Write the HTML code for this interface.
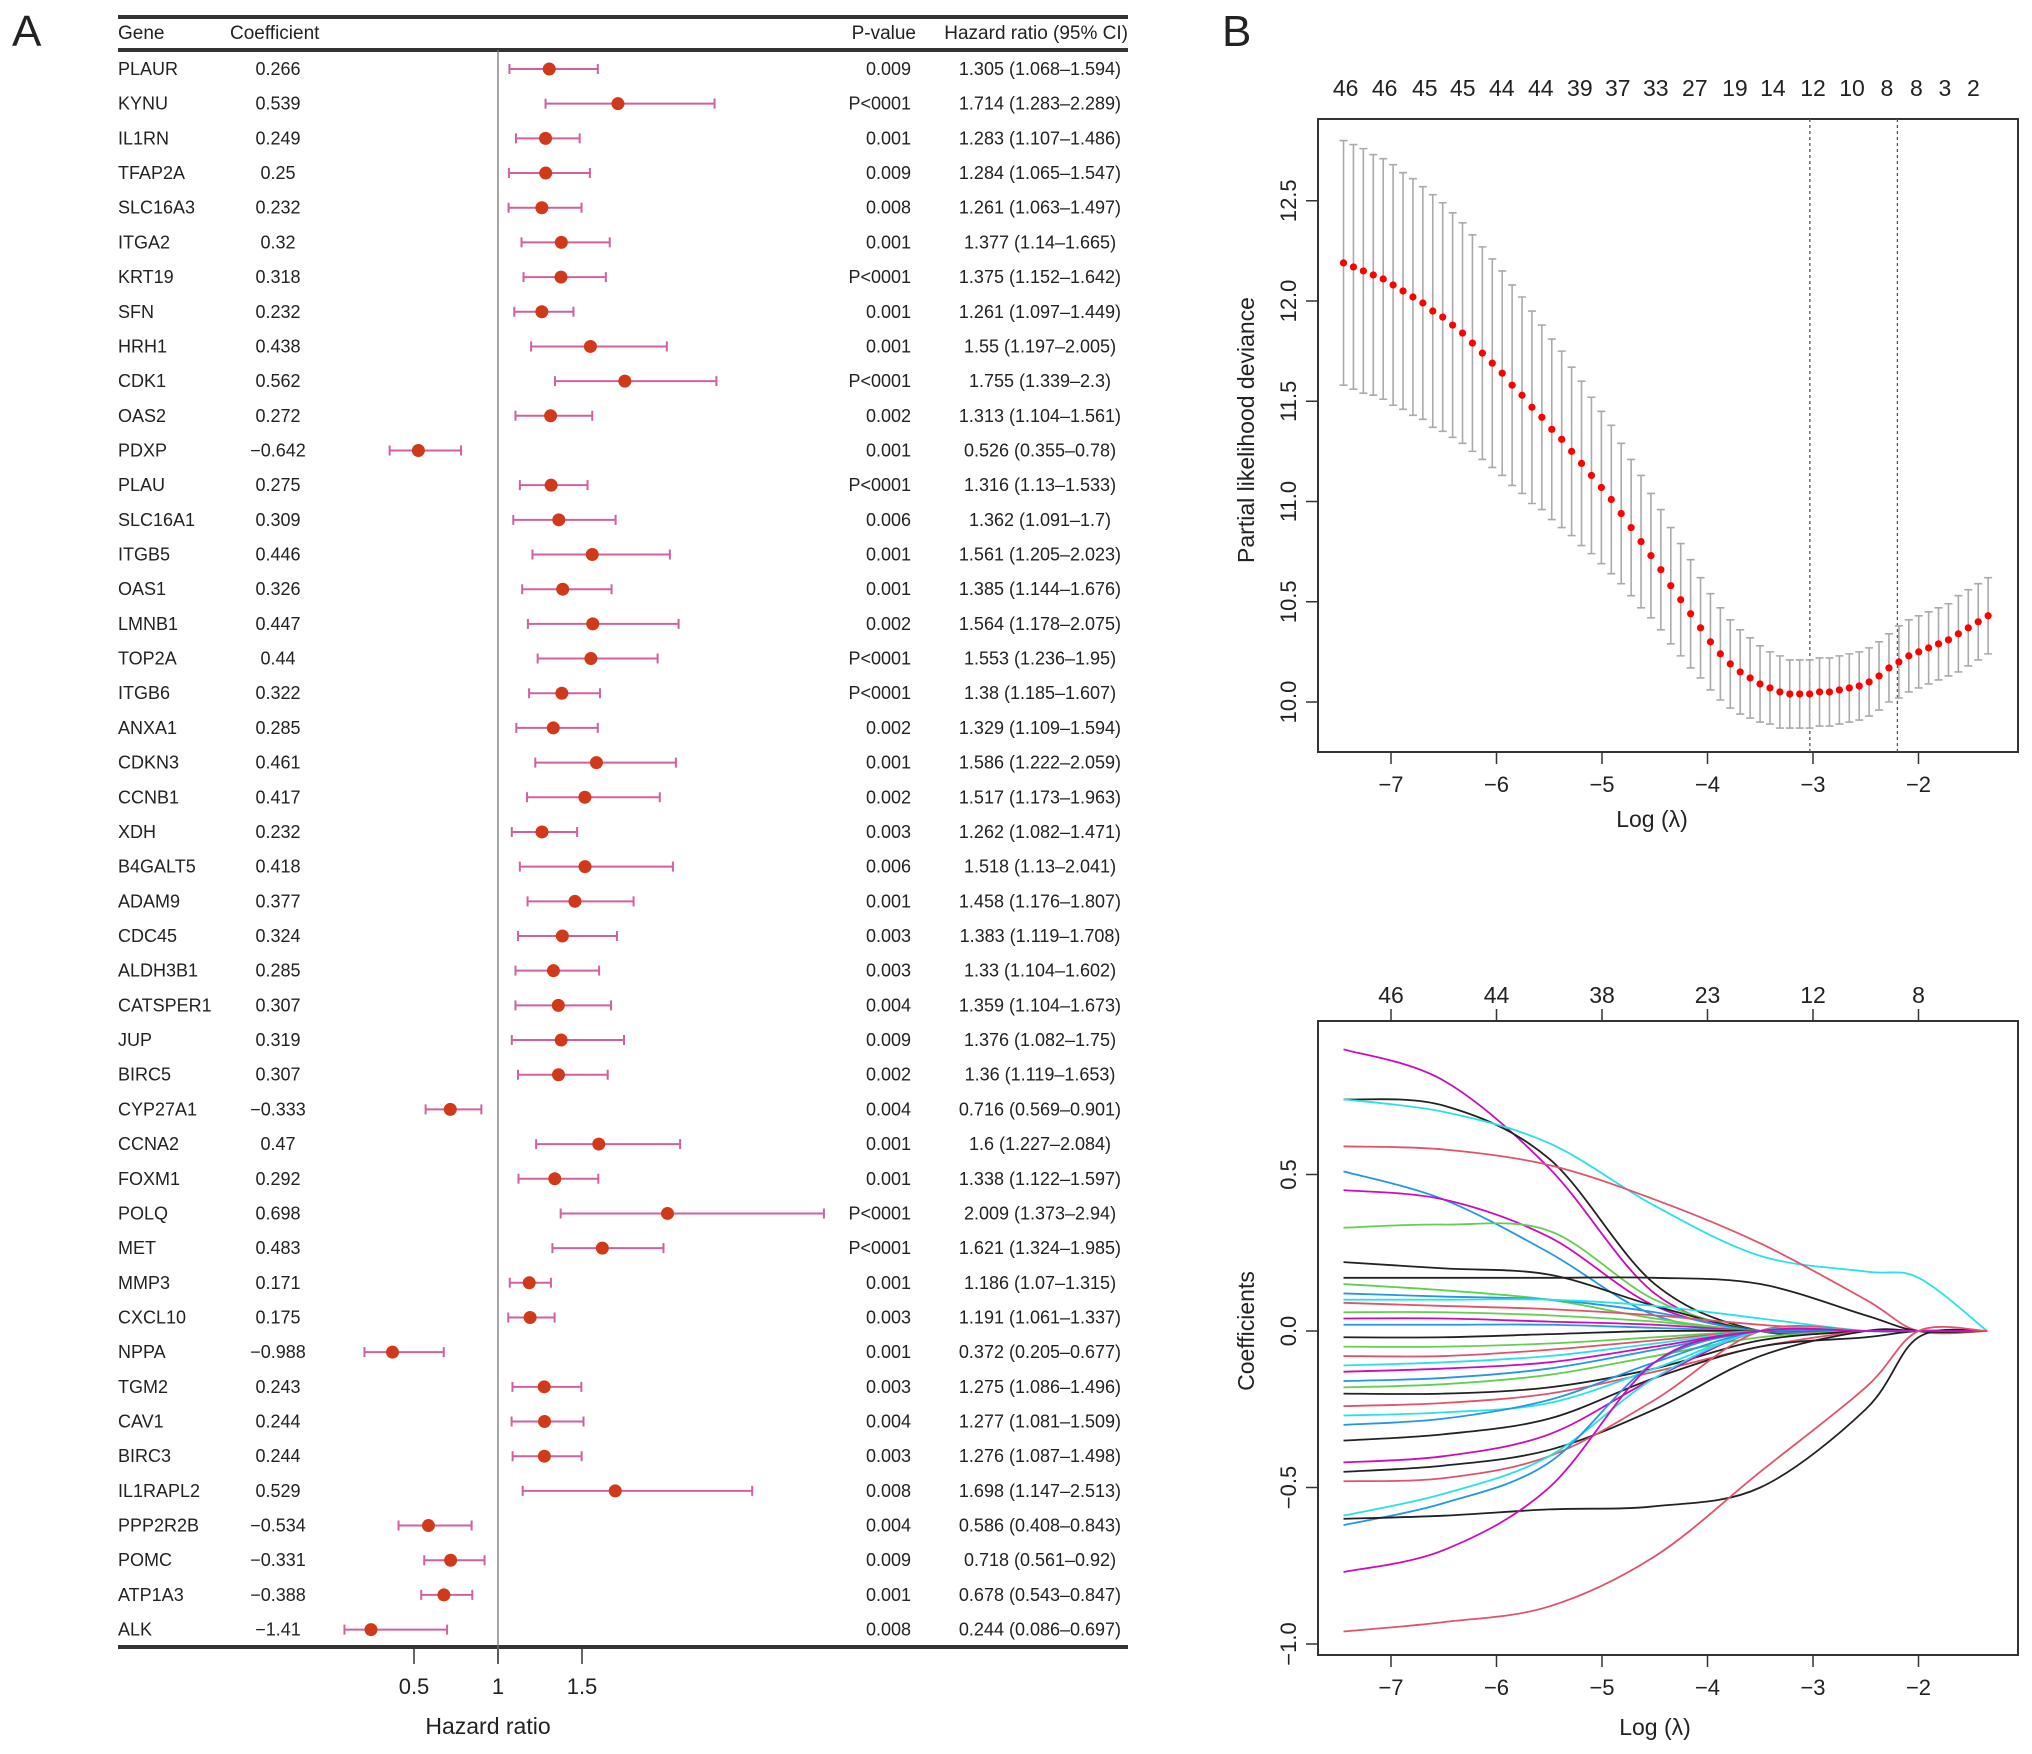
<!DOCTYPE html>
<html><head><meta charset="utf-8"><style>
body{margin:0;background:#fff}
svg{display:block}
text{font-family:"Liberation Sans",sans-serif;fill:#222}
</style></head><body>
<svg id="fig" width="2032" height="1754" viewBox="0 0 2032 1754" xmlns="http://www.w3.org/2000/svg">
<text x="12" y="46" font-size="44">A</text>
<text x="1222" y="46" font-size="44">B</text>
<g id="forest"></g>
<g id="cv"></g>
<g id="paths"></g>
</svg>
<script>
// ---------- Forest plot data ----------
const genes=["PLAUR","KYNU","IL1RN","TFAP2A","SLC16A3","ITGA2","KRT19","SFN","HRH1","CDK1","OAS2","PDXP","PLAU","SLC16A1","ITGB5","OAS1","LMNB1","TOP2A","ITGB6","ANXA1","CDKN3","CCNB1","XDH","B4GALT5","ADAM9","CDC45","ALDH3B1","CATSPER1","JUP","BIRC5","CYP27A1","CCNA2","FOXM1","POLQ","MET","MMP3","CXCL10","NPPA","TGM2","CAV1","BIRC3","IL1RAPL2","PPP2R2B","POMC","ATP1A3","ALK"];
const coefs=["0.266","0.539","0.249","0.25","0.232","0.32","0.318","0.232","0.438","0.562","0.272","−0.642","0.275","0.309","0.446","0.326","0.447","0.44","0.322","0.285","0.461","0.417","0.232","0.418","0.377","0.324","0.285","0.307","0.319","0.307","−0.333","0.47","0.292","0.698","0.483","0.171","0.175","−0.988","0.243","0.244","0.244","0.529","−0.534","−0.331","−0.388","−1.41"];
const pvals=["0.009","P<0001","0.001","0.009","0.008","0.001","P<0001","0.001","0.001","P<0001","0.002","0.001","P<0001","0.006","0.001","0.001","0.002","P<0001","P<0001","0.002","0.001","0.002","0.003","0.006","0.001","0.003","0.003","0.004","0.009","0.002","0.004","0.001","0.001","P<0001","P<0001","0.001","0.003","0.001","0.003","0.004","0.003","0.008","0.004","0.009","0.001","0.008"];
const hrs=["1.305","1.714","1.283","1.284","1.261","1.377","1.375","1.261","1.55","1.755","1.313","0.526","1.316","1.362","1.561","1.385","1.564","1.553","1.38","1.329","1.586","1.517","1.262","1.518","1.458","1.383","1.33","1.359","1.376","1.36","0.716","1.6","1.338","2.009","1.621","1.186","1.191","0.372","1.275","1.277","1.276","1.698","0.586","0.718","0.678","0.244"];
const los=["1.068","1.283","1.107","1.065","1.063","1.14","1.152","1.097","1.197","1.339","1.104","0.355","1.13","1.091","1.205","1.144","1.178","1.236","1.185","1.109","1.222","1.173","1.082","1.13","1.176","1.119","1.104","1.104","1.082","1.119","0.569","1.227","1.122","1.373","1.324","1.07","1.061","0.205","1.086","1.081","1.087","1.147","0.408","0.561","0.543","0.086"];
const his=["1.594","2.289","1.486","1.547","1.497","1.665","1.642","1.449","2.005","2.3","1.561","0.78","1.533","1.7","2.023","1.676","2.075","1.95","1.607","1.594","2.059","1.963","1.471","2.041","1.807","1.708","1.602","1.673","1.75","1.653","0.901","2.084","1.597","2.94","1.985","1.315","1.337","0.677","1.496","1.509","1.498","2.513","0.843","0.92","0.847","0.697"];
const hrTicks=[0.5,1,1.5];

// ---------- CV deviance data ----------
const cvStart=-7.45, cvStep=0.094;
const cvMean=[12.19,12.17,12.15,12.13,12.11,12.08,12.05,12.02,11.99,11.95,11.92,11.88,11.84,11.79,11.74,11.69,11.64,11.58,11.53,11.47,11.42,11.36,11.31,11.25,11.19,11.13,11.07,11.01,10.94,10.87,10.80,10.73,10.66,10.58,10.51,10.44,10.37,10.30,10.24,10.19,10.15,10.12,10.09,10.07,10.05,10.04,10.04,10.04,10.05,10.05,10.06,10.07,10.08,10.10,10.13,10.17,10.20,10.23,10.25,10.27,10.29,10.31,10.34,10.37,10.40,10.43];
const cvSE=[.61,.61,.61,.60,.60,.60,.59,.59,.58,.58,.57,.56,.55,.54,.53,.52,.51,.50,.49,.48,.46,.45,.44,.42,.41,.39,.38,.37,.35,.34,.33,.31,.30,.29,.28,.27,.25,.24,.23,.22,.21,.20,.19,.18,.18,.17,.17,.17,.17,.17,.17,.17,.17,.17,.17,.17,.18,.18,.18,.18,.18,.18,.19,.19,.19,.19];
const cvXTicks=[-7,-6,-5,-4,-3,-2];
const cvYTicks=[10.0,10.5,11.0,11.5,12.0,12.5];
const cvTopLabels=["46","46","45","45","44","44","39","37","33","27","19","14","12","10","8","8","3","2"];
const cvTopPos=[-7.43,-7.06,-6.68,-6.32,-5.95,-5.58,-5.21,-4.85,-4.49,-4.12,-3.74,-3.38,-3.00,-2.63,-2.30,-2.02,-1.75,-1.48];
const cvVlines=[-3.03,-2.2];

// ---------- Coefficient path data ----------
const pathKnots=[-7.45,-6.5,-5.5,-4.5,-3.5,-2.5,-2.0,-1.35];
const pathColors=["#CD0BBC","#222","#28E2E5","#DF536B","#2297E6","#CD0BBC","#61D04F","#222","#222","#61D04F","#2297E6","#28E2E5","#DF536B","#61D04F","#CD0BBC","#2297E6","#222","#61D04F","#DF536B","#28E2E5","#CD0BBC","#2297E6","#61D04F","#222","#DF536B","#28E2E5","#2297E6","#222","#CD0BBC","#222","#DF536B","#28E2E5","#2297E6","#222","#CD0BBC","#DF536B"];
const pathValues=[
[.90,.80,.52,.12,0,0,0,0],[.74,.72,.55,.15,0,0,0,0],[.74,.70,.60,.40,.24,.19,.17,0],[.59,.58,.53,.42,.28,.10,0,0],
[.51,.42,.25,.05,0,0,0,0],[.45,.42,.30,.08,0,0,0,0],[.33,.34,.32,.10,0,0,0,0],[.22,.20,.18,.08,0,0,0,0],
[.17,.17,.17,.17,.15,.05,0,0],[.15,.13,.10,.04,0,0,0,0],[.12,.11,.10,.06,0,0,0,0],[.10,.10,.10,.08,.04,0,0,0],
[.09,.08,.07,.05,.02,0,0,0],[.06,.06,.05,.03,0,0,0,0],[.04,.04,.03,.02,0,0,0,0],[.02,.02,.02,.01,0,0,0,0],
[-.02,-.02,-.01,0,0,0,0,0],[-.05,-.05,-.04,-.02,0,0,0,0],[-.08,-.08,-.06,-.03,0,0,0,0],[-.11,-.10,-.08,-.04,0,0,0,0],
[-.13,-.12,-.10,-.05,0,0,0,0],[-.16,-.15,-.12,-.06,0,0,0,0],[-.18,-.17,-.14,-.08,-.02,0,0,0],[-.20,-.20,-.18,-.12,-.03,0,0,0],
[-.24,-.23,-.20,-.13,-.05,0,0,0],[-.27,-.26,-.23,-.12,0,0,0,0],[-.30,-.28,-.22,-.10,0,0,0,0],[-.35,-.33,-.28,-.15,-.05,-.02,0,0],
[-.42,-.40,-.33,-.15,0,0,0,0],[-.45,-.43,-.38,-.25,-.08,0,0,0],[-.48,-.47,-.40,-.22,0,0,0,0],[-.59,-.52,-.40,-.15,0,0,0,0],
[-.62,-.55,-.42,-.10,0,0,0,0],[-.60,-.59,-.57,-.56,-.50,-.25,-.02,0],[-.77,-.70,-.50,-.10,0,0,0,0],[-.96,-.93,-.88,-.72,-.45,-.18,0,0]];
const pathXTicks=[-7,-6,-5,-4,-3,-2];
const pathYTicks=[-1.0,-0.5,0.0,0.5];
const pathTopLabels=["46","44","38","23","12","8"];
const pathTopPos=[-7,-6,-5,-4,-3,-2];

const NS="http://www.w3.org/2000/svg";
function mk(parent,tag,attrs,txt){const e=document.createElementNS(NS,tag);for(const k in attrs)e.setAttribute(k,attrs[k]);if(txt!==undefined)e.textContent=txt;parent.appendChild(e);return e;}

// ---------- Forest ----------
(function(){
const g=document.getElementById('forest');
const xHR=v=>498+(v-1)*168;
const rowY=i=>69+i*34.68;
let e;
e=mk(g,'line',{x1:118,x2:1128,y1:17,y2:17,stroke:'#333','stroke-width':4});


e=mk(g,'line',{x1:118,x2:1128,y1:50,y2:50,stroke:'#333','stroke-width':4});


e=mk(g,'line',{x1:118,x2:1128,y1:1647,y2:1647,stroke:'#333','stroke-width':4});


const hdr=[["Gene",118,'start'],["Coefficient",230,'start'],["P-value",916,'end'],["Hazard ratio (95% CI)",1128,'end']];
hdr.forEach(h=>{e=mk(g,'text',{x:h[1],y:39,'font-size':19,'text-anchor':h[2]},h[0]);

});
e=mk(g,'line',{x1:xHR(1),x2:xHR(1),y1:50,y2:1663,stroke:'#777','stroke-width':1.3});


genes.forEach((gn,i)=>{
 const y=rowY(i);
 e=mk(g,'text',{x:118,y:y+6,'font-size':18},gn);
 
 
 e=mk(g,'text',{x:278,y:y+6,'font-size':18,'text-anchor':'middle'},coefs[i]);
 
 
 e=mk(g,'text',{x:911,y:y+6,'font-size':18,'text-anchor':'end'},pvals[i]);
 
 
 e=mk(g,'text',{x:1040,y:y+6,'font-size':18,'text-anchor':'middle'},hrs[i]+" ("+los[i]+"–"+his[i]+")");
 
 
 const l=xHR(+los[i]),h=xHR(+his[i]);
 e=mk(g,'path',{d:`M${l},${y}H${h}M${l},${y-5}V${y+5}M${h},${y-5}V${y+5}`,stroke:'#D060A0','stroke-width':2,fill:'none'});
 
 
 e=mk(g,'circle',{cx:xHR(+hrs[i]),cy:y,r:6.5,fill:'#D03A1A'});
 
 
});
hrTicks.forEach(t=>{
 e=mk(g,'line',{x1:xHR(t),x2:xHR(t),y1:1649,y2:1664,stroke:'#333','stroke-width':1.5});
 
 
 e=mk(g,'text',{x:xHR(t),y:1694,'font-size':22,'text-anchor':'middle'},String(t));
 
 
});
e=mk(g,'text',{x:488,y:1734,'font-size':23,'text-anchor':'middle'},"Hazard ratio");


})();

// ---------- CV plot ----------
(function(){
const g=document.getElementById('cv');
const L=1318,R=2018,T=119,B=752;
const X=v=>1391+(v+7)*105.5;
const Y=v=>702-(v-10)*200.5;
let e;
e=mk(g,'rect',{x:L,y:T,width:R-L,height:B-T,fill:'none',stroke:'#333','stroke-width':2});


cvVlines.forEach(v=>{e=mk(g,'line',{x1:X(v),x2:X(v),y1:T,y2:B,stroke:'#555','stroke-width':1.3,'stroke-dasharray':'3,3'});

});
cvMean.forEach((m,i)=>{
 const x=X(cvStart+i*cvStep),u=Y(m+cvSE[i]),d=Y(m-cvSE[i]);
 e=mk(g,'path',{d:`M${x},${u}V${d}M${x-4},${u}H${x+4}M${x-4},${d}H${x+4}`,stroke:'#aaa','stroke-width':1.6,fill:'none'});
 
 
});
cvMean.forEach((m,i)=>{
 e=mk(g,'circle',{cx:X(cvStart+i*cvStep),cy:Y(m),r:3.6,fill:'#F00'});
 
 
});
cvXTicks.forEach(t=>{
 e=mk(g,'line',{x1:X(t),x2:X(t),y1:B,y2:B+12,stroke:'#333','stroke-width':1.5});
 
 
 e=mk(g,'text',{x:X(t),y:B+40,'font-size':22,'text-anchor':'middle'},"−"+Math.abs(t));
 
 
});
cvYTicks.forEach(t=>{
 e=mk(g,'line',{x1:L-12,x2:L,y1:Y(t),y2:Y(t),stroke:'#333','stroke-width':1.5});
 
 
 e=mk(g,'text',{x:L-22,y:Y(t),'font-size':22,'text-anchor':'middle',transform:`rotate(-90 ${L-22} ${Y(t)})`},t.toFixed(1));
 
 
});
cvTopLabels.forEach((s,i)=>{e=mk(g,'text',{x:X(cvTopPos[i]),y:96,'font-size':23,'text-anchor':'middle'},s);

});
e=mk(g,'text',{x:1652,y:827,'font-size':23,'text-anchor':'middle'},"Log (λ)");


e=mk(g,'text',{x:1254,y:430,'font-size':23,'text-anchor':'middle',transform:'rotate(-90 1254 430)'},"Partial likelihood deviance");


})();

// ---------- Coefficient paths ----------
(function(){
const g=document.getElementById('paths');
const L=1318,R=2018,T=1021,B=1655;
const X=v=>1391+(v+7)*105.5;
const Y=v=>1331-v*313;
let e;
e=mk(g,'rect',{x:L,y:T,width:R-L,height:B-T,fill:'none',stroke:'#333','stroke-width':2});


function smooth(pts){
 let d=`M${pts[0][0]},${pts[0][1]}`;
 for(let i=0;i<pts.length-1;i++){
  const p0=pts[Math.max(i-1,0)],p1=pts[i],p2=pts[i+1],p3=pts[Math.min(i+2,pts.length-1)];
  const c1x=p1[0]+(p2[0]-p0[0])/6,c1y=p1[1]+(p2[1]-p0[1])/6;
  const c2x=p2[0]-(p3[0]-p1[0])/6,c2y=p2[1]-(p3[1]-p1[1])/6;
  d+=`C${c1x},${c1y} ${c2x},${c2y} ${p2[0]},${p2[1]}`;
 }
 return d;
}
pathValues.forEach((vals,k)=>{
 const pts=vals.map((v,i)=>[X(pathKnots[i]),Y(v)]);
 e=mk(g,'path',{d:smooth(pts),stroke:pathColors[k],'stroke-width':1.8,fill:'none'});
 
 
});
pathXTicks.forEach(t=>{
 e=mk(g,'line',{x1:X(t),x2:X(t),y1:B,y2:B+12,stroke:'#333','stroke-width':1.5});
 
 
 e=mk(g,'text',{x:X(t),y:B+40,'font-size':22,'text-anchor':'middle'},"−"+Math.abs(t));
 
 
});
pathYTicks.forEach(t=>{
 e=mk(g,'line',{x1:L-12,x2:L,y1:Y(t),y2:Y(t),stroke:'#333','stroke-width':1.5});
 
 
 const s=(t<0?"−":"")+Math.abs(t).toFixed(1);
 e=mk(g,'text',{x:L-22,y:Y(t),'font-size':22,'text-anchor':'middle',transform:`rotate(-90 ${L-22} ${Y(t)})`},s);
 
 
});
pathTopPos.forEach((p,i)=>{
 e=mk(g,'line',{x1:X(p),x2:X(p),y1:T,y2:T-12,stroke:'#333','stroke-width':1.5});
 
 
 e=mk(g,'text',{x:X(p),y:1003,'font-size':23,'text-anchor':'middle'},pathTopLabels[i]);
 
 
});
e=mk(g,'text',{x:1655,y:1735,'font-size':23,'text-anchor':'middle'},"Log (λ)");


e=mk(g,'text',{x:1254,y:1331,'font-size':23,'text-anchor':'middle',transform:'rotate(-90 1254 1331)'},"Coefficients");


})();
</script>
</body></html>
